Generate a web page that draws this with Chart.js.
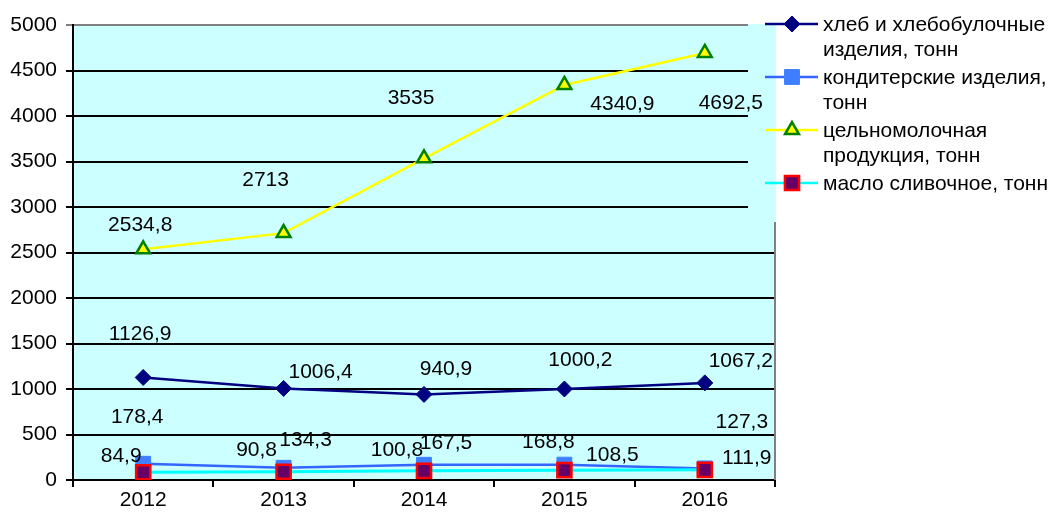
<!DOCTYPE html>
<html>
<head>
<meta charset="utf-8">
<script src="https://cdn.jsdelivr.net/npm/chart.js@4/dist/chart.umd.min.js"></script>
<style>
  body { margin: 0; background: #fff; }
  #wrap { width: 1054px; height: 517px; }
</style>
</head>
<body>
<div id="wrap"><canvas id="chart" width="1054" height="517"></canvas></div>
<script>
const years = ["2012", "2013", "2014", "2015", "2016"];
const bread = [1126.9, 1006.4, 940.9, 1000.2, 1067.2];
const sweets = [178.4, 134.3, 167.5, 168.8, 127.3];
const milk = [2534.8, 2713, 3535, 4340.9, 4692.5];
const butter = [84.9, 90.8, 100.8, 108.5, 111.9];
const seriesNames = [
  ["хлеб и хлебобулочные", "изделия, тонн"],
  ["кондитерские изделия,", "тонн"],
  ["цельномолочная", "продукция, тонн"],
  ["масло сливочное, тонн"]
];

// where Excel left each data label, relative to its point (px)
const labelShift = [
  [[-3, -43], [37, -16], [22, -25], [16, -29], [36, -22]],
  [[-6, -47], [22, -28], [22, -22], [-16, -22], [37, -46]],
  [[-3, -24], [-18, -53], [-13, -60], [58, 19], [26, 50]],
  [[-22, -16], [-27, -22], [-27, -21], [48, -15], [42, -12]]
];

const FAMILY = "Arial, 'Liberation Sans', sans-serif";
const FONT = "21px " + FAMILY;

const plotBg = {
  id: "plotBg",
  beforeDraw(chart) {
    const { ctx, chartArea: a } = chart;
    ctx.save();
    ctx.fillStyle = "#ccffff";
    ctx.fillRect(a.left, a.top, a.right - a.left, a.bottom - a.top);
    ctx.restore();
  },
  beforeDatasetsDraw(chart) {
    // legend box eats the grid ends in the top right corner
    const { ctx, chartArea: a } = chart;
    ctx.save();
    ctx.fillStyle = "#ccffff";
    ctx.fillRect(a.right - 27, a.top - 2, 28, 222 - a.top + 2);
    ctx.fillStyle = "#fff";
    ctx.fillRect(a.right - 27, 0, 40, a.top - 1);
    ctx.strokeStyle = "#808080";
    ctx.lineWidth = 2;
    ctx.beginPath();
    ctx.moveTo(a.right, 222);
    ctx.lineTo(a.right, a.bottom);
    ctx.stroke();
    ctx.restore();
  }
};

const valueLabels = {
  id: "valueLabels",
  afterDatasetsDraw(chart) {
    const ctx = chart.ctx;
    ctx.save();
    ctx.font = FONT;
    ctx.fillStyle = "#000";
    ctx.textAlign = "center";
    ctx.textBaseline = "middle";
    chart.data.datasets.forEach((ds, i) => {
      chart.getDatasetMeta(i).data.forEach((pt, j) => {
        const [dx, dy] = labelShift[i][j];
        ctx.fillText(String(ds.data[j]).replace(".", ","), pt.x + dx, pt.y + dy);
      });
    });
    ctx.restore();
  }
};

const sideLegend = {
  id: "sideLegend",
  afterDraw(chart) {
    const ctx = chart.ctx;
    ctx.save();
    ctx.font = FONT;
    ctx.textBaseline = "middle";
    ctx.textAlign = "left";
    let y = 24;
    chart.data.datasets.forEach((ds, i) => {
      ctx.strokeStyle = ds.borderColor;
      ctx.lineWidth = 2.5;
      ctx.beginPath();
      ctx.moveTo(765, y);
      ctx.lineTo(818, y);
      ctx.stroke();
      ctx.fillStyle = ds.pointBackgroundColor;
      ctx.strokeStyle = ds.pointBorderColor;
      ctx.lineWidth = ds.pointBorderWidth;
      Chart.helpers.drawPoint(ctx, {
        pointStyle: ds.pointStyle,
        radius: ds.pointRadius,
        rotation: 0,
        borderWidth: ds.pointBorderWidth
      }, 792, y);
      ctx.fillStyle = "#000";
      seriesNames[i].forEach((line, k) => {
        ctx.fillText(line, 823, y + 1 + k * 25);
      });
      y += 53;
    });
    ctx.restore();
  }
};

new Chart(document.getElementById("chart"), {
  type: "line",
  data: {
    labels: years,
    datasets: [
      {
        label: seriesNames[0].join(" "),
        data: bread,
        borderColor: "#000080",
        borderWidth: 2.5,
        pointStyle: "rectRot",
        pointRadius: 8,
        pointBackgroundColor: "#000080",
        pointBorderColor: "#000080",
        pointBorderWidth: 1,
        order: 0
      },
      {
        label: seriesNames[1].join(" "),
        data: sweets,
        borderColor: "#3366ff",
        borderWidth: 2.5,
        pointStyle: "rect",
        pointRadius: 10.5,
        pointBackgroundColor: "#3f7fff",
        pointBorderColor: "#3f7fff",
        pointBorderWidth: 1,
        order: 2
      },
      {
        label: seriesNames[2].join(" "),
        data: milk,
        borderColor: "#ffff00",
        borderWidth: 2.5,
        pointStyle: "triangle",
        pointRadius: 8,
        pointBackgroundColor: "#ffff00",
        pointBorderColor: "#008000",
        pointBorderWidth: 2.5,
        order: 0
      },
      {
        label: seriesNames[3].join(" "),
        data: butter,
        borderColor: "#00ffff",
        borderWidth: 3,
        pointStyle: "rect",
        pointRadius: 10,
        pointBackgroundColor: "#660066",
        pointBorderColor: "#ff0000",
        pointBorderWidth: 2.5,
        order: 1
      }
    ]
  },
  options: {
    responsive: false,
    animation: false,
    devicePixelRatio: 1,
    layout: { padding: { top: 25, right: 279, left: 0, bottom: 0 } },
    plugins: {
      legend: { display: false },
      tooltip: { enabled: false },
      title: { display: false }
    },
    scales: {
      x: {
        offset: true,
        afterFit: (s) => { s.height = 37; },
        grid: {
          offset: true,
          drawOnChartArea: false,
          color: "#000",
          lineWidth: 2,
          tickLength: 7
        },
        border: { color: "#000", width: 2 },
        ticks: { color: "#000", font: { family: FAMILY, size: 21 }, padding: 1 }
      },
      y: {
        min: 0,
        max: 5000,
        afterFit: (s) => { s.width = 73; },
        grid: {
          color: (c) => (c.tick && c.tick.value === 5000 ? "#808080" : "#000"),
          lineWidth: 2,
          tickLength: 7
        },
        border: { color: "#000", width: 2 },
        ticks: {
          stepSize: 500,
          color: "#000",
          padding: 9,
          font: { family: FAMILY, size: 21 },
          callback: (v) => String(v)
        }
      }
    }
  },
  plugins: [plotBg, valueLabels, sideLegend]
});
</script>
</body>
</html>
